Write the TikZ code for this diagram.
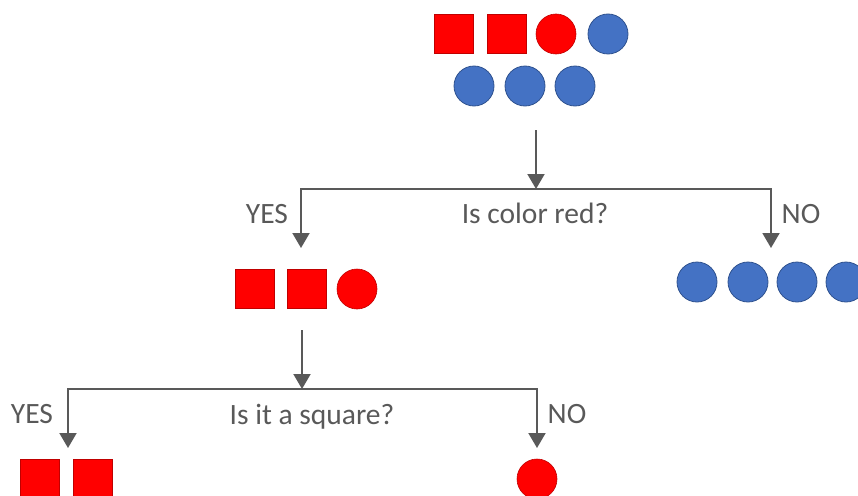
\documentclass[tikz,border=0pt]{standalone}
\usepackage{fontspec}
\setmainfont{Carlito}
\usetikzlibrary{arrows.meta}
\definecolor{shapered}{HTML}{FF0000}
\definecolor{edgered}{HTML}{C00000}
\definecolor{shapeblue}{HTML}{4472C4}
\definecolor{edgeblue}{HTML}{2F528F}
\definecolor{linegray}{HTML}{595959}
\begin{document}
\begin{tikzpicture}[x=1pt,y=-1pt,
  sq/.style={draw=edgered, fill=shapered, minimum size=39pt, inner sep=0pt, line width=.6pt},
  rc/.style={circle, draw=edgered, fill=shapered, minimum size=40pt, inner sep=0pt, line width=.6pt},
  bc/.style={circle, draw=edgeblue, fill=shapeblue, minimum size=40pt, inner sep=0pt, line width=.8pt},
  arr/.style={draw=linegray, line width=2pt, -{Triangle[width=17pt,length=15pt]}},
  lbl/.style={text=linegray, font=\fontsize{29.5}{32}\selectfont, anchor=base}]
\useasboundingbox (0,0) rectangle (858,495);
\clip (0,0) rectangle (858,495);

% all shapes
\node[sq] (a1) at (454,34) {};
\node[sq] (a2) at (507,34) {};
\node[rc] (a3) at (556,34) {};
\node[bc] (a4) at (608,34) {};
\node[bc] (a5) at (474,86) {};
\node[bc] (a6) at (525,86) {};
\node[bc] (a7) at (575,86) {};

% yes side
\node[sq] (y1) at (255,289) {};
\node[sq] (y2) at (307,289) {};
\node[rc] (y3) at (357,289) {};

% no side
\node[bc] (n1) at (697,282) {};
\node[bc] (n2) at (748,282) {};
\node[bc] (n3) at (797,282) {};
\node[bc] (n4) at (846,282) {};

% second split
\node[sq] (s1) at (40,479) {};
\node[sq] (s2) at (93,479) {};
\node[rc] (c1) at (537,479) {};

\coordinate (top) at (536,130);
\coordinate (q1) at (536,189);
\coordinate (yes1) at (301,248);
\coordinate (no1) at (771,248);
\coordinate (mid) at (302,330);
\coordinate (q2) at (302,389);
\coordinate (yes2) at (68,448);
\coordinate (no2) at (537,448);

\draw[arr] (top) -- (q1);
\draw[arr] (q1) -| (yes1);
\draw[arr] (q1) -| (no1);
\draw[arr] (mid) -- (q2);
\draw[arr] (q2) -| (yes2);
\draw[arr] (q2) -| (no2);

\node[lbl] (t1) at (535,223) {Is color red?};
\node[lbl] (t2) at (267,223) {YES};
\node[lbl] (t3) at (801,223) {NO};
\node[lbl] (t4) at (312,424) {Is it a square?};
\node[lbl] (t5) at (32,423) {YES};
\node[lbl] (t6) at (567,423) {NO};
\end{tikzpicture}
\end{document}
